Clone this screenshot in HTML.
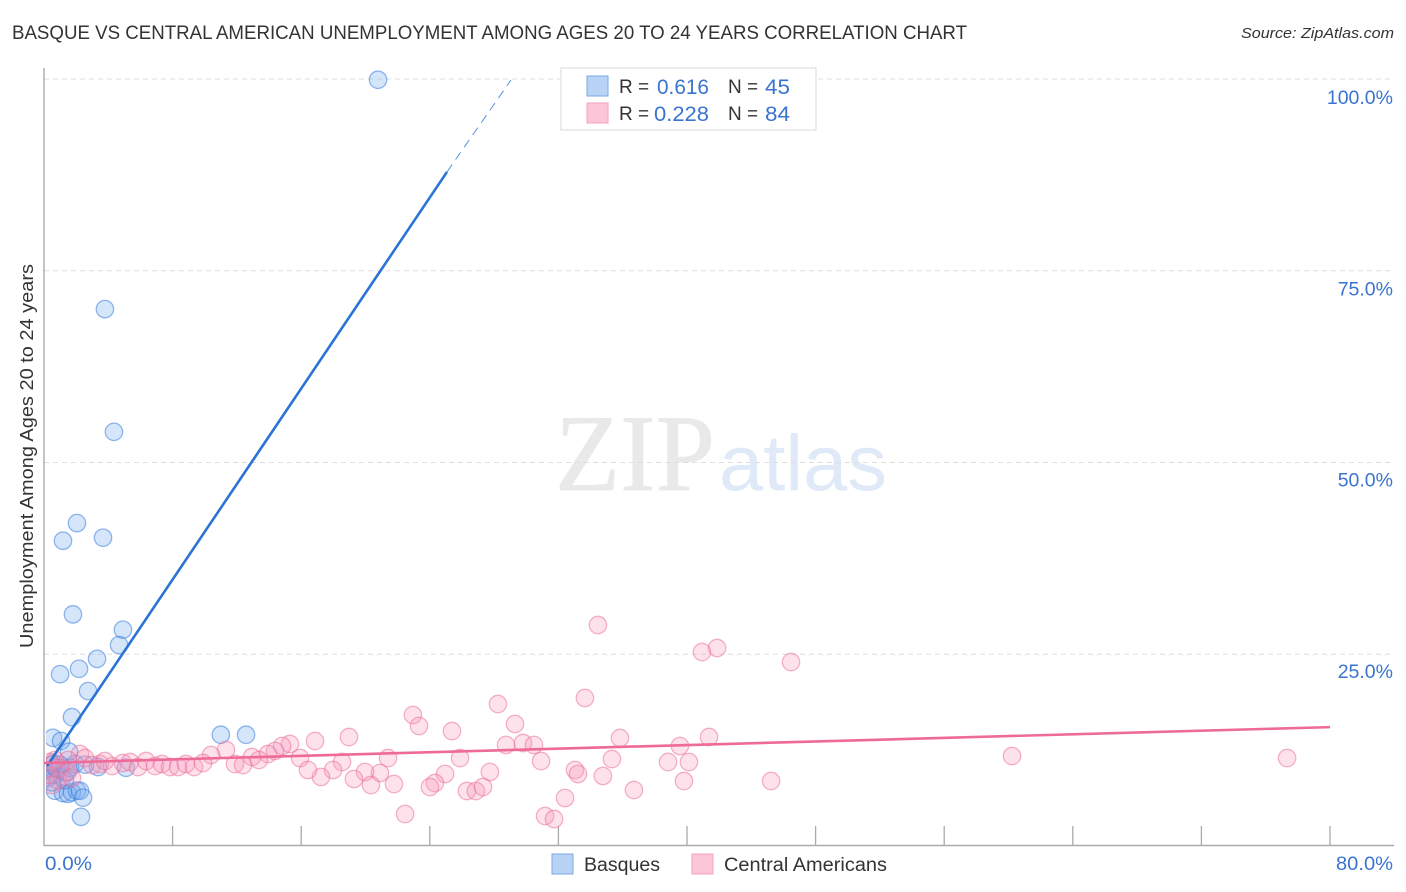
<!DOCTYPE html>
<html>
<head>
<meta charset="utf-8">
<title>Basque vs Central American Unemployment Correlation Chart</title>
<style>
html,body{margin:0;padding:0;background:#fff;}
svg{display:block;font-family:"Liberation Sans",sans-serif;}
</style>
</head>
<body>
<svg id="chart" width="1406" height="892" viewBox="0 0 1406 892" xmlns="http://www.w3.org/2000/svg">
  <defs>
    <clipPath id="plot-clip"><rect x="46" y="60" width="1350" height="785"/></clipPath>
  </defs>
  <text x="12" y="39" font-size="19.5" fill="#333" textLength="955" lengthAdjust="spacingAndGlyphs">BASQUE VS CENTRAL AMERICAN UNEMPLOYMENT AMONG AGES 20 TO 24 YEARS CORRELATION CHART</text>
  <text x="1394" y="38" font-size="15" font-style="italic" fill="#333" text-anchor="end" textLength="153" lengthAdjust="spacingAndGlyphs">Source: ZipAtlas.com</text>

  <g>
    <text x="555" y="490" font-family="'Liberation Serif',serif" font-size="109" fill="#e9e9e9" stroke="#e9e9e9" stroke-width="0.8" textLength="160" lengthAdjust="spacingAndGlyphs">ZIP</text>
    <text x="719" y="490" font-size="79" fill="#dfe9f7" textLength="168" lengthAdjust="spacingAndGlyphs">atlas</text>
  </g>

  <g id="grid"></g>
  <g id="axes"></g>
  <g id="marks" clip-path="url(#plot-clip)"></g>
  <g id="trends"></g>
  <g id="labels"></g>

  <text transform="translate(33,456) rotate(-90)" font-size="18.5" fill="#333" text-anchor="middle" textLength="384" lengthAdjust="spacingAndGlyphs">Unemployment Among Ages 20 to 24 years</text>

  <g>
    <rect x="561" y="68" width="255" height="62" fill="#fff" stroke="#e0e0e0" stroke-width="1.2"/>
    <rect x="587" y="76" width="21" height="20" fill="#b9d3f7" stroke="#7aa8e6" stroke-width="1"/>
    <rect x="587" y="103" width="21" height="20" fill="#fcc6d8" stroke="#f3a3bd" stroke-width="1"/>
    <text x="619" y="93" font-size="19" fill="#333">R =</text>
    <text x="657" y="94" font-size="21" fill="#3a74d0" textLength="52" lengthAdjust="spacingAndGlyphs">0.616</text>
    <text x="728" y="93" font-size="19" fill="#333">N =</text>
    <text x="765" y="94" font-size="21" fill="#3a74d0" textLength="25" lengthAdjust="spacingAndGlyphs">45</text>
    <text x="619" y="120" font-size="19" fill="#333">R =</text>
    <text x="654" y="121" font-size="21" fill="#3a74d0" textLength="55" lengthAdjust="spacingAndGlyphs">0.228</text>
    <text x="728" y="120" font-size="19" fill="#333">N =</text>
    <text x="765" y="121" font-size="21" fill="#3a74d0" textLength="25" lengthAdjust="spacingAndGlyphs">84</text>
  </g>

  <g>
    <rect x="552" y="854" width="21" height="20" fill="#b9d3f7" stroke="#7aa8e6" stroke-width="1"/>
    <text x="584" y="871" font-size="19" fill="#333" textLength="76" lengthAdjust="spacingAndGlyphs">Basques</text>
    <rect x="692" y="854" width="21" height="20" fill="#fcc6d8" stroke="#f3a3bd" stroke-width="1"/>
    <text x="724" y="871" font-size="19" fill="#333" textLength="163" lengthAdjust="spacingAndGlyphs">Central Americans</text>
  </g>
</svg>
<script>
// Chart data (x and y are percentages)
const xTickValues = [0,8,16,24,32,40,48,56,64,72,80];
const yGridValues = [25,50,75,100];
const yTickLabels = ["25.0%","50.0%","75.0%","100.0%"];
const xEndLabels = ["0.0%","80.0%"];

const basqueX = [20.78,3.79,4.35,2.05,1.18,3.67,1.80,4.91,4.67,3.30,2.18,1.00,2.74,1.74,11.00,12.57,0.56,1.06,1.56,3.36,5.10,0.68,1.18,1.49,1.74,2.05,2.24,2.43,2.30,
  0.37,0.50,0.68,0.87,0.25,1.12,1.37,1.62,1.93,0.62,1.00,0.37,1.30,0.50,2.55,0.75];
const basqueY = [99.9,70.0,54.0,42.1,39.8,40.2,30.2,28.2,26.2,24.4,23.1,22.4,20.2,16.8,14.5,14.5,14.1,13.7,12.3,10.3,10.2,7.2,6.9,6.8,7.0,7.2,7.2,6.3,3.8,
  9.9,10.6,9.3,9.9,8.9,8.9,9.6,10.2,10.7,10.8,10.6,9.3,8.6,8.3,10.6,10.2];

const centralX = [34.46,41.87,40.93,46.47,33.65,28.24,22.95,23.33,25.38,29.30,18.97,35.83,41.37,39.56,28.74,29.80,30.48,15.30,16.86,14.81,14.37,13.93,11.32,10.39,12.94,13.37,15.93,25.88,21.40,30.92,35.33,38.82,40.12,33.03,33.22,27.74,24.95,34.77,20.90,19.97,18.54,17.98,17.23,16.42,19.28,20.34,21.77,24.32,24.01,26.31,26.87,27.31,32.41,36.70,39.81,45.23,22.46,31.17,31.73,60.22,77.33,
  2.24,2.55,1.49,3.48,2.99,4.23,3.79,4.91,5.35,5.85,6.35,6.91,7.34,7.84,8.34,8.83,9.33,9.89,11.88,12.38,0.68,0.25,1.00,0.37,0.87,1.49,1.74,0.50];
const centralY = [28.81,25.81,25.29,23.99,19.30,18.51,17.08,15.65,14.99,15.91,14.21,14.08,14.21,13.04,13.17,13.43,13.17,13.30,13.69,13.04,12.39,11.99,12.52,11.86,11.60,11.21,11.47,11.47,11.47,11.08,11.34,10.95,10.95,9.91,9.39,9.65,9.39,9.13,9.52,9.65,10.95,9.91,9.00,9.91,8.74,7.95,8.08,8.21,7.69,7.17,7.17,7.69,6.26,7.30,8.47,8.47,4.17,3.91,3.52,11.73,11.47,
  12.00,11.47,11.21,10.69,10.56,10.43,11.08,10.82,10.95,10.30,11.08,10.43,10.69,10.30,10.30,10.69,10.30,10.82,10.69,10.56,11.21,9.26,10.17,10.95,8.60,9.65,8.87,7.95];

const basqueTrendX = [0.19,25.07];
const basqueTrendY = [10.43,87.88];
const basqueDashX = [25.07,29.05];
const basqueDashY = [87.88,99.87];
const centralTrendX = [0,80];
const centralTrendY = [10.82,15.5];

const NS = "http://www.w3.org/2000/svg";
function sx(v){ return 44 + v * 16.075; }
function sy(v){ return 846 - v * 7.67; }
function labelY(v){ return 104 + (100 - v) * 7.65; }
function make(tag, attrs, parent){
  const el = document.createElementNS(NS, tag);
  for (const k in attrs) el.setAttribute(k, attrs[k]);
  parent.appendChild(el);
  return el;
}
const gridG = document.getElementById("grid");
const axesG = document.getElementById("axes");
const marksG = document.getElementById("marks");
const trendsG = document.getElementById("trends");
const labelsG = document.getElementById("labels");

yGridValues.forEach(function(v, i){
  const gl = make("line", {x1:44, x2:1394, y1:sy(v), y2:sy(v), stroke:"#dedede", "stroke-width":1, "stroke-dasharray":"5 4"}, gridG);
  
  
  const t = make("text", {x:1393, y:labelY(v), "font-size":19.5, fill:"#3a74d0", "text-anchor":"end"}, labelsG);
  t.textContent = yTickLabels[i];
  
  
});

const yAxisLine = make("line", {x1:44, x2:44, y1:68, y2:846, stroke:"#aaa", "stroke-width":1.4}, axesG);


const xAxisLine = make("line", {x1:44, x2:1394, y1:845.5, y2:845.5, stroke:"#aaa", "stroke-width":1.4}, axesG);


xTickValues.slice(1).forEach(function(v){
  const tk = make("line", {x1:sx(v), x2:sx(v), y1:826, y2:845, stroke:"#aaa", "stroke-width":1.3}, axesG);
  
  
});

const xLabelStart = make("text", {x:sx(xTickValues[0])+1, y:870, "font-size":19.5, fill:"#3a74d0", textLength:47, lengthAdjust:"spacingAndGlyphs"}, labelsG);
xLabelStart.textContent = xEndLabels[0];


const xLabelEnd = make("text", {x:1336, y:870, "font-size":19.5, fill:"#3a74d0", textLength:57, lengthAdjust:"spacingAndGlyphs"}, labelsG);
xLabelEnd.textContent = xEndLabels[1];



basqueX.forEach(function(v, i){
  const c = make("circle", {cx:sx(v), cy:sy(basqueY[i]), r:8.7, fill:"rgba(120,170,240,0.31)", stroke:"rgba(50,120,220,0.52)", "stroke-width":1.3}, marksG);
  
  
});
centralX.forEach(function(v, i){
  const c = make("circle", {cx:sx(v), cy:sy(centralY[i]), r:8.7, fill:"rgba(248,150,185,0.29)", stroke:"rgba(235,105,150,0.5)", "stroke-width":1.3}, marksG);
  
  
});

const trendBasque = make("line", {x1:sx(basqueTrendX[0]), y1:sy(basqueTrendY[0]), x2:sx(basqueTrendX[1]), y2:sy(basqueTrendY[1]), stroke:"#2b74d6", "stroke-width":2.6}, trendsG);


const trendDash = make("line", {x1:sx(basqueDashX[0]), y1:sy(basqueDashY[0]), x2:sx(basqueDashX[1]), y2:sy(basqueDashY[1]), stroke:"#5a93de", "stroke-width":1, "stroke-dasharray":"9 6"}, trendsG);


const trendCentral = make("line", {x1:sx(centralTrendX[0]), y1:sy(centralTrendY[0]), x2:sx(centralTrendX[1]), y2:sy(centralTrendY[1]), stroke:"#ee6a98", "stroke-width":2.6}, trendsG);


</script>
</body>
</html>
